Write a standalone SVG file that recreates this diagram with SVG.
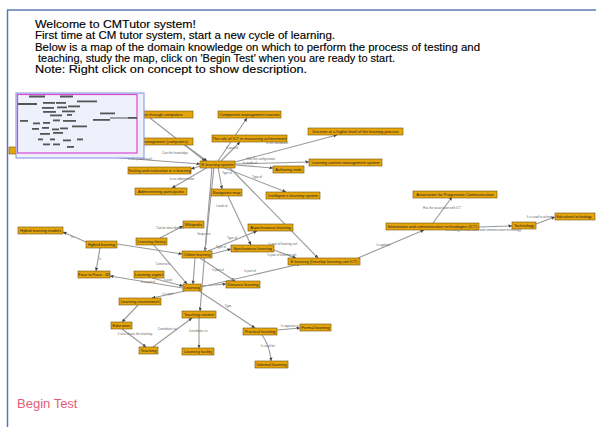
<svg xmlns="http://www.w3.org/2000/svg" width="596" height="427" viewBox="0 0 596 427">
<defs>
<marker id="ah" viewBox="0 0 6 6" refX="6" refY="3" markerWidth="3.5" markerHeight="3.5" markerUnits="userSpaceOnUse" orient="auto"><path d="M0,0 L6,3 L0,6 z" fill="#444"/></marker>
<style>
.hdr{font-family:"Liberation Sans",Arial,sans-serif;font-size:11.4px;fill:#000;stroke:#000;stroke-width:0.15}
.nd rect{fill:#E5A40C;stroke:#6e5410;stroke-width:0.6}
.nd text{font-family:"Liberation Sans",Arial,sans-serif;font-size:4px;fill:#222;text-anchor:middle}
.ed line,.ed path{stroke:#999;stroke-width:1.1;fill:none;marker-end:url(#ah)}
.lb{font-family:"Liberation Sans",Arial,sans-serif;font-size:3px;fill:#666;text-anchor:middle}
.mm{fill:#555}
</style>
</defs>
<rect width="596" height="427" fill="#fff"/>
<line x1="7" y1="10" x2="596" y2="10" stroke="#5b78b5" stroke-width="1.5"/>
<line x1="7.5" y1="10" x2="7.5" y2="427" stroke="#5b78b5" stroke-width="1.5"/>
<text class="hdr" x="35" y="27.5" textLength="161" lengthAdjust="spacingAndGlyphs">Welcome to CMTutor system!</text>
<text class="hdr" x="35" y="39.3" textLength="300" lengthAdjust="spacingAndGlyphs">First time at CM tutor system, start a new cycle of learning.</text>
<text class="hdr" x="35" y="50.7" textLength="445" lengthAdjust="spacingAndGlyphs">Below is a map of the domain knowledge on which to perform the process of testing and</text>
<text class="hdr" x="38" y="61.7" textLength="357" lengthAdjust="spacingAndGlyphs">teaching, study the map, click on 'Begin Test' when you are ready to start.</text>
<text class="hdr" x="35" y="72.7" textLength="272" lengthAdjust="spacingAndGlyphs">Note: Right click on concept to show description.</text>

<g id="connectors" class="ed">
<line x1="17" y1="150" x2="200" y2="164"/>
<line x1="150" y1="118" x2="205" y2="161"/>
<line x1="185" y1="145" x2="207" y2="161"/>
<line x1="200" y1="166" x2="191" y2="169"/>
<line x1="208" y1="167" x2="172" y2="188"/>
<line x1="218" y1="161" x2="247" y2="118"/>
<line x1="221" y1="161" x2="240" y2="142"/>
<line x1="235" y1="162" x2="337" y2="135"/>
<line x1="235" y1="164" x2="309" y2="162"/>
<line x1="235" y1="165" x2="273" y2="168"/>
<line x1="222" y1="167" x2="286" y2="192"/>
<line x1="218" y1="167" x2="222" y2="189"/>
<line x1="214" y1="167" x2="205" y2="251"/>
<line x1="212" y1="167" x2="200" y2="311"/>
<line x1="229" y1="167" x2="318" y2="258"/>
<line x1="228" y1="196" x2="251" y2="245"/>
<line x1="208" y1="251" x2="257" y2="231"/>
<line x1="212" y1="254" x2="231" y2="249"/>
<line x1="200" y1="258" x2="235" y2="281"/>
<line x1="195" y1="258" x2="193" y2="284"/>
<line x1="201" y1="287" x2="300" y2="264"/>
<line x1="201" y1="286" x2="226" y2="284"/>
<line x1="274" y1="250" x2="296" y2="258"/>
<line x1="117" y1="244" x2="182" y2="254"/>
<line x1="86" y1="242" x2="63" y2="232"/>
<line x1="100" y1="248" x2="96" y2="271"/>
<line x1="160" y1="238" x2="183" y2="226"/>
<line x1="153" y1="244" x2="187" y2="284"/>
<line x1="183" y1="288" x2="110" y2="276"/>
<line x1="152" y1="278" x2="183" y2="286"/>
<line x1="185" y1="291" x2="152" y2="298"/>
<line x1="138" y1="305" x2="122" y2="322"/>
<line x1="122" y1="329" x2="146" y2="347"/>
<line x1="153" y1="347" x2="192" y2="318"/>
<line x1="199" y1="318" x2="199" y2="348"/>
<line x1="199" y1="291" x2="255" y2="328"/>
<line x1="277" y1="330" x2="300" y2="328"/>
<path d="M262,335 Q270,346 271,361"/>
<line x1="358" y1="258" x2="424" y2="230"/>
<line x1="433" y1="223" x2="452" y2="197"/>
<line x1="479" y1="227" x2="512" y2="226"/>
<line x1="536" y1="224" x2="555" y2="217"/>
</g>
<g id="edge-labels">
<text class="lb" x="175" y="154">Can the knowledge</text>
<text class="lb" x="140" y="160">Is the (contextual)</text>
<text class="lb" x="182" y="180">Is an administrator</text>
<text class="lb" x="232" y="149">Is part of</text>
<text class="lb" x="277" y="144">Is the foundation</text>
<text class="lb" x="261" y="160">Has the configuration</text>
<text class="lb" x="250" y="164">Is made of</text>
<text class="lb" x="257" y="178">Type of</text>
<text class="lb" x="227" y="174">Type of</text>
<text class="lb" x="204" y="235">Sequence</text>
<text class="lb" x="222" y="207">Leads to</text>
<text class="lb" x="232" y="239">Type of</text>
<text class="lb" x="221" y="248">Type of</text>
<text class="lb" x="218" y="271">Is part of</text>
<text class="lb" x="250" y="272">Is part of</text>
<text class="lb" x="283" y="245">Is part of learning unit</text>
<text class="lb" x="282" y="256">Is part of learning unit</text>
<text class="lb" x="72" y="238">Is</text>
<text class="lb" x="100" y="260">Is</text>
<text class="lb" x="170" y="229">Can be described as</text>
<text class="lb" x="163" y="265">Constructs</text>
<text class="lb" x="148" y="283">Is a part of</text>
<text class="lb" x="168" y="281">Is part</text>
<text class="lb" x="168" y="295">Is a part</text>
<text class="lb" x="135" y="335">It also shows the teaching</text>
<text class="lb" x="167" y="330">Contributes to</text>
<text class="lb" x="198" y="332">Contributes to</text>
<text class="lb" x="228" y="307">Type</text>
<text class="lb" x="290" y="327">Is opposite to</text>
<text class="lb" x="268" y="347">Is used for</text>
<text class="lb" x="383" y="246">Is applied</text>
<text class="lb" x="442" y="209">Has the association with ICT</text>
<text class="lb" x="483" y="231">Technology is information and communication technology</text>
<text class="lb" x="540" y="218">It is used to achieve</text>
</g>

<g id="n37" class="nd"><rect x="9" y="147" width="12" height="7"/></g>
<g id="n1" class="nd"><rect x="120" y="111" width="73" height="7"/><text x="156.5" y="116">Education through computers</text></g>
<g id="n9" class="nd"><rect x="120" y="138" width="73" height="7"/><text x="156.5" y="143">Learning management (computers)</text></g>
<g id="n2" class="nd"><rect x="218" y="111" width="63" height="7"/><text x="249.5" y="116">Component management courses</text></g>
<g id="n3" class="nd"><rect x="212" y="135" width="75" height="7"/><text x="249.5" y="140">The role of ICT in measuring achievement</text></g>
<g id="n4" class="nd"><rect x="308" y="128" width="95" height="7"/><text x="355.5" y="133">Doctrine at a higher level of the learning process</text></g>
<g id="n5" class="nd"><rect x="309" y="159" width="73" height="7"/><text x="345.5" y="164">Learning content management system</text></g>
<g id="n6" class="nd"><rect x="273" y="166" width="31" height="7"/><text x="288.5" y="171">Authoring tools</text></g>
<g id="n7" class="nd"><rect x="200" y="161" width="35" height="7"/><text x="217.5" y="166">E-learning system</text></g>
<g id="n8" class="nd"><rect x="128" y="167" width="63" height="7"/><text x="159.5" y="172">Testing and evaluation in e-learning</text></g>
<g id="n10" class="nd"><rect x="135" y="188" width="52" height="7"/><text x="161" y="193">Administering participants</text></g>
<g id="n11" class="nd"><rect x="211" y="189" width="31" height="7"/><text x="226.5" y="194">Navigation map</text></g>
<g id="n12" class="nd"><rect x="266" y="192" width="54" height="7"/><text x="293" y="197">Intelligent e-learning system</text></g>
<g id="n13" class="nd"><rect x="248" y="224" width="45" height="7"/><text x="270.5" y="229">Asynchronous learning</text></g>
<g id="n14" class="nd"><rect x="231" y="245" width="43" height="7"/><text x="252.5" y="250">Synchronous learning</text></g>
<g id="n15" class="nd"><rect x="182" y="251" width="30" height="7"/><text x="197" y="256">Online learning</text></g>
<g id="n16" class="nd"><rect x="288" y="258" width="72" height="7"/><text x="324" y="263">E-learning (Develop learning unit ICT)</text></g>
<g id="n17" class="nd"><rect x="226" y="281" width="34" height="7"/><text x="243" y="286">Distance learning</text></g>
<g id="n18" class="nd"><rect x="183" y="284" width="18" height="7"/><text x="192" y="289">Learning</text></g>
<g id="n19" class="nd"><rect x="119" y="298" width="42" height="7"/><text x="140" y="303">Learning environment</text></g>
<g id="n20" class="nd"><rect x="111" y="322" width="21" height="7"/><text x="121.5" y="327">Education</text></g>
<g id="n21" class="nd"><rect x="139" y="347" width="19" height="7"/><text x="148.5" y="352">Teaching</text></g>
<g id="n22" class="nd"><rect x="182" y="311" width="34" height="7"/><text x="199" y="316">Teaching content</text></g>
<g id="n23" class="nd"><rect x="182" y="348" width="32" height="7"/><text x="198" y="353">Learning facility</text></g>
<g id="n24" class="nd"><rect x="243" y="328" width="34" height="7"/><text x="260" y="333">Practical learning</text></g>
<g id="n25" class="nd"><rect x="300" y="324" width="31" height="7"/><text x="315.5" y="329">Formal learning</text></g>
<g id="n26" class="nd"><rect x="255" y="361" width="33" height="7"/><text x="271.5" y="366">Informal learning</text></g>
<g id="n27" class="nd"><rect x="86" y="241" width="31" height="7"/><text x="101.5" y="246">Hybrid learning</text></g>
<g id="n28" class="nd"><rect x="18" y="227" width="45" height="7"/><text x="40.5" y="232">Hybrid learning models</text></g>
<g id="n29" class="nd"><rect x="78" y="271" width="32" height="7"/><text x="94" y="276">Face to Face - f2f</text></g>
<g id="n30" class="nd"><rect x="136" y="238" width="31" height="7"/><text x="151.5" y="243">Learning theory</text></g>
<g id="n31" class="nd"><rect x="134" y="271" width="30" height="7"/><text x="149" y="276">Learning aspect</text></g>
<g id="n32" class="nd"><rect x="183" y="221" width="21" height="7"/><text x="193.5" y="226">Wikipedia</text></g>
<g id="n33" class="nd"><rect x="386" y="223" width="93" height="7"/><text x="432.5" y="228">Information and communication technologies (ICT)</text></g>
<g id="n34" class="nd"><rect x="413" y="191" width="84" height="7"/><text x="455" y="196">Association for Progressive Communication</text></g>
<g id="n35" class="nd"><rect x="512" y="222" width="24" height="7"/><text x="524" y="227">Technology</text></g>
<g id="n36" class="nd"><rect x="555" y="213" width="40" height="7"/><text x="574" y="218" style="font-size:3.4px">Educational technology</text></g>

<g id="minimap">
<rect x="16" y="93" width="128" height="65" fill="#eef1fb" stroke="#8090e0" stroke-width="1"/>
<rect x="17.5" y="94.5" width="119.5" height="58.5" fill="none" stroke="#d848d8" stroke-width="1.2"/>
<g class="mm">
<rect x="29" y="95.5" width="16" height="2"/><rect x="60" y="95.5" width="13" height="2"/>
<rect x="18" y="103" width="19" height="2"/><rect x="43" y="102" width="12" height="1.8"/><rect x="56" y="102" width="10" height="1.8"/>
<rect x="77" y="100.5" width="20" height="1.8"/><rect x="42" y="107" width="12" height="1.8"/><rect x="57" y="106.5" width="10" height="1.8"/>
<rect x="68" y="105.5" width="12" height="1.8"/><rect x="43" y="111" width="13" height="1.8"/><rect x="62" y="110.5" width="13" height="1.8"/>
<rect x="50" y="114.5" width="12" height="1.8"/><rect x="67" y="114" width="5" height="1.8"/><rect x="100" y="112.5" width="15" height="1.8"/>
<rect x="93" y="119" width="17" height="1.8"/><rect x="110" y="117.5" width="18" height="1"/><rect x="128" y="117" width="9" height="1.8"/>
<rect x="20" y="120" width="8" height="1.8"/><rect x="33" y="122.5" width="7" height="1.8"/><rect x="43" y="122" width="7" height="1.8"/>
<rect x="53" y="119.5" width="7" height="1.8"/><rect x="63" y="120" width="13" height="1.8"/><rect x="72" y="125.5" width="15" height="1.8"/>
<rect x="32" y="128" width="7" height="1.8"/><rect x="42" y="127" width="7" height="1.8"/><rect x="52" y="128.5" width="7" height="1.8"/>
<rect x="60" y="127.5" width="8" height="1.8"/><rect x="40" y="133" width="10" height="1.8"/><rect x="53" y="132" width="10" height="1.8"/>
<rect x="38" y="138.5" width="5" height="1.8"/><rect x="50" y="138.5" width="5" height="1.8"/><rect x="63" y="139.5" width="8" height="1.8"/>
<rect x="77" y="138.5" width="6" height="1.8"/><rect x="43" y="143.5" width="7" height="1.8"/><rect x="53" y="143.5" width="7" height="1.8"/>
<rect x="67" y="146" width="7" height="1.8"/>
</g>
</g>

<text x="17" y="408.3" font-family="'Liberation Sans',Arial,sans-serif" font-size="13" fill="#E45C78">Begin Test</text>
</svg>
